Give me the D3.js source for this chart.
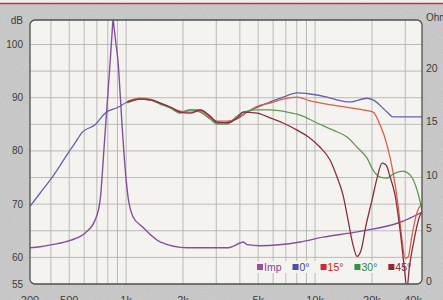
<!DOCTYPE html>
<html>
<head>
<meta charset="utf-8">
<script src="https://cdn.jsdelivr.net/npm/d3@7"></script>
<style>
    html, body { margin: 0; padding: 0; background: #c9c9c9; }
    svg { display: block; font-family: "Liberation Sans", Arial, sans-serif; }
</style>
</head>
<body>
<svg id="chart" width="443" height="300"></svg>
<script>
// impedance, [Hz, ohm]
var impedance = [[310,3.4],[351,3.5],[406,3.7],[506,4.1],[607,4.8],[685,6.0],[729,7.9],[737,8.8],
    [765,12.9],[793,16.8],[823,20.85],[843,23.6],[853,24.9],[864,24.05],[885,22.45],[907,20.85],
    [929,18.0],[952,14.9],[976,12.1],[1000,9.8],[1025,8.1],[1089,6.3],[1215,5.4],[1513,3.95],[2100,3.4],
    [3420,3.4],[4010,3.85],[4160,3.95],[4370,3.7],[5120,3.6],[8330,3.95],[11000,4.4],
    [16700,4.9],[28200,5.8],[37300,6.8]];

// SPL, [Hz, dB]
var spl0 = [[310,69.6],[351,72.1],[396,74.5],[448,77.3],[493,79.6],[537,81.5],[585,83.5],[685,84.9],
    [774,87.1],[907,88.2],[1012,89.2],[1186,89.8],[1340,89.6],[1513,89.0],[1709,88.2],[1931,87.3],
    [2181,87.7],[2464,87.7],[2783,86.4],[3030,85.2],[3422,85.4],[3866,86.2],[4366,87.3],[4932,88.2],
    [5781,89.2],[6771,90.1],[8030,90.9],[9410,90.7],[11570,90.1],[13000,89.6],[15320,89.2],
    [18840,89.9],[20270,89.6],[24040,87.3],[25860,86.4],[30000,86.4],[37270,86.4]];

var spl15 = [[1012,89.2],[1186,89.9],[1340,89.75],[1513,89.0],[1709,88.25],[1931,87.5],[2181,87.3],
    [2464,87.5],[2783,86.2],[3030,85.6],[3422,85.6],[3866,86.0],[4366,87.3],[4932,88.4],[5781,89.0],
    [6771,89.75],[8030,90.1],[9410,89.4],[12450,88.6],[15320,88.1],[17950,87.7],[20270,87.3],
    [22080,84.9],[24040,81.1],[25860,76.0],[27500,69.8],[28860,63.25],[29930,59.85],[31050,60.05],
    [32600,64.2],[34650,68.5],[37270,70.2]];

var spl30 = [[1012,89.0],[1186,89.75],[1340,89.6],[1513,88.8],[1709,88.1],[1931,87.1],[2181,87.7],
    [2464,87.3],[2783,86.0],[3030,85.05],[3422,85.05],[3866,86.55],[4159,87.3],[4932,87.7],
    [5781,87.7],[7110,87.3],[8330,86.75],[10250,85.25],[12450,83.9],[14770,82.6],[16680,80.7],
    [18840,78.65],[20270,76.4],[22080,75.1],[24040,74.9],[25860,75.65],[29210,76.2],[31810,75.5],
    [34650,72.65],[37270,67.95]];

var spl45 = [[1012,89.2],[1186,89.75],[1340,89.6],[1513,89.0],[1709,88.25],[1931,87.3],[2181,87.1],
    [2464,87.7],[2783,86.55],[3030,85.4],[3422,85.25],[3866,86.2],[4159,87.3],[4932,87.1],
    [5781,86.2],[6771,85.25],[8030,83.9],[9410,82.4],[10630,80.7],[12000,78.3],[13070,75.1],
    [14060,71.7],[14950,67.0],[15890,62.3],[16680,60.2],[17520,61.35],[18620,66.1],[20030,70.8],
    [21280,74.9],[22620,77.7],[23750,77.35],[24940,75.1],[26500,71.7],[28170,65.1],[29570,58.55],
    [30670,54.2],[31430,57.6],[33400,63.25],[35500,67.4],[37270,68.9]];

var legendNames = ["Imp", "0°", "15°", "30°", "45°"];
var freqLabels = [200, 500, 1000, 2000, 5000, 10000, 20000, 40000];
var freqLabelText = ["200", "500", "1k", "2k", "5k", "10k", "20k", "40k"];
var freqGrid = [400, 500, 600, 700, 800, 900, 1000, 2000, 3000, 4000, 5000, 6000, 7000, 8000, 9000, 10000, 20000, 30000];
var dbTicks = [100, 90, 80, 70, 60, 55];
var dbGrid = [60, 65, 70, 75, 80, 85, 90, 95, 100];
var ohmTicks = [20, 15, 10, 5, 0];

var svg = d3.select("#chart");
var plotL = 30, plotR = 422, plotT = 20, plotB = 284;

var x = d3.scaleLog().domain([310, 36800]).range([plotL, plotR]);
var y = d3.scaleLinear().domain([55, 104.6]).range([plotB, plotT]);
var yOhm = d3.scaleLinear().domain([0, 24.8]).range([plotB, plotT]);

var colors = ["#83519a", "#6560aa", "#d3604c", "#5f9a52", "#8a2e40"];
var legendColors = ["#9a4ea2", "#4b50a4", "#d2283a", "#2f9244", "#8c2a3c"];

var defs = svg.append("defs");
defs.append("clipPath").attr("id", "plot-clip")
    .append("rect")
    .attr("x", plotL).attr("y", plotT)
    .attr("width", plotR - plotL).attr("height", plotB - plotT)
    .attr("rx", 5);

var grain = defs.append("filter").attr("id", "grain");
grain.append("feTurbulence")
    .attr("type", "fractalNoise")
    .attr("baseFrequency", 0.85)
    .attr("numOctaves", 2)
    .attr("seed", 4);
grain.append("feColorMatrix").attr("type", "saturate").attr("values", 0);

// background
svg.append("rect").attr("width", 443).attr("height", 300).attr("fill", "#c9c9c9");
svg.append("rect").attr("width", 443).attr("height", 300)
    .attr("filter", "url(#grain)").attr("opacity", 0.22);
svg.append("rect").attr("width", 443).attr("height", 3).attr("fill", "#f2eeee");
svg.append("line")
    .attr("x1", 0).attr("x2", 443).attr("y1", 3.5).attr("y2", 3.5)
    .attr("stroke", "#c0353a").attr("stroke-width", 1.5);

// plot area
svg.append("rect")
    .attr("x", plotL).attr("y", plotT)
    .attr("width", plotR - plotL).attr("height", plotB - plotT)
    .attr("rx", 5)
    .attr("fill", "#f4f3f0");

var grid = svg.append("g").attr("clip-path", "url(#plot-clip)");
grid.selectAll("line.v")
    .data(freqGrid)
    .enter().append("line")
    .attr("class", "v")
    .attr("x1", function (d) { return x(d); })
    .attr("x2", function (d) { return x(d); })
    .attr("y1", plotT).attr("y2", plotB)
    .attr("stroke", "#b3b3b3").attr("stroke-width", 0.9);
grid.selectAll("line.h")
    .data(dbGrid)
    .enter().append("line")
    .attr("class", "h")
    .attr("x1", plotL).attr("x2", plotR)
    .attr("y1", function (d) { return y(d); })
    .attr("y2", function (d) { return y(d); })
    .attr("stroke", "#b3b3b3").attr("stroke-width", 0.9);

// legend backing, grid does not run through it
var legend = svg.append("g");
legend.append("rect")
    .attr("x", 254).attr("y", 261)
    .attr("width", 162).attr("height", 12)
    .attr("fill", "#f4f3f0");

// curves
var lineDb = d3.line()
    .x(function (d) { return x(d[0]); })
    .y(function (d) { return y(d[1]); })
    .curve(d3.curveMonotoneX);
var lineOhm = d3.line()
    .x(function (d) { return x(d[0]); })
    .y(function (d) { return yOhm(d[1]); })
    .curve(d3.curveMonotoneX);

var curves = svg.append("g").attr("clip-path", "url(#plot-clip)");
var series = [spl0, spl15, spl30, spl45];

curves.append("path")
    .datum(impedance)
    .attr("d", lineOhm)
    .attr("fill", "none")
    .attr("stroke", colors[0])
    .attr("stroke-width", 1.4);

series.forEach(function (s, i) {
    curves.append("path")
        .datum(s)
        .attr("d", lineDb)
        .attr("fill", "none")
        .attr("stroke", colors[i + 1])
        .attr("stroke-width", 1.3);
});

// frame
svg.append("rect")
    .attr("x", plotL).attr("y", plotT)
    .attr("width", plotR - plotL).attr("height", plotB - plotT)
    .attr("rx", 5)
    .attr("fill", "none")
    .attr("stroke", "#505050")
    .attr("stroke-width", 1.3);

// legend entries
var lx = 257;
legendNames.forEach(function (name, i) {
    legend.append("rect")
        .attr("x", lx).attr("y", 264)
        .attr("width", 6).attr("height", 6)
        .attr("fill", legendColors[i]);
    var t = legend.append("text")
        .attr("x", lx + 7).attr("y", 271)
        .attr("font-size", 10.5)
        .attr("fill", d3.color(legendColors[i]).darker(0.3))
        .text(name);
    lx += 7 + t.node().getComputedTextLength() + 11;
});

// axis labels
var labels = svg.append("g").attr("fill", "#3c3c3c").attr("font-size", 10);
labels.append("text").attr("x", 23).attr("y", 24).attr("text-anchor", "end").text("dB");
labels.selectAll("text.db")
    .data(dbTicks)
    .enter().append("text")
    .attr("class", "db")
    .attr("x", 23)
    .attr("y", function (d) { return y(d) + 3.5; })
    .attr("text-anchor", "end")
    .text(function (d) { return d; });

labels.append("text").attr("x", 426).attr("y", 21).text("Ohm");
labels.selectAll("text.ohm")
    .data(ohmTicks)
    .enter().append("text")
    .attr("class", "ohm")
    .attr("x", 426)
    .attr("y", function (d) { return yOhm(d) + 1; })
    .attr("font-size", 10.5)
    .text(function (d) { return d; });

var xc = x.copy().clamp(true);
labels.selectAll("text.freq")
    .data(freqLabels)
    .enter().append("text")
    .attr("class", "freq")
    .attr("x", function (d) { return xc(d); })
    .attr("y", 304)
    .attr("font-size", 11)
    .attr("text-anchor", function (d) { return d > x.domain()[1] ? "end" : "middle"; })
    .text(function (d, i) { return freqLabelText[i]; });
</script>
</body>
</html>
